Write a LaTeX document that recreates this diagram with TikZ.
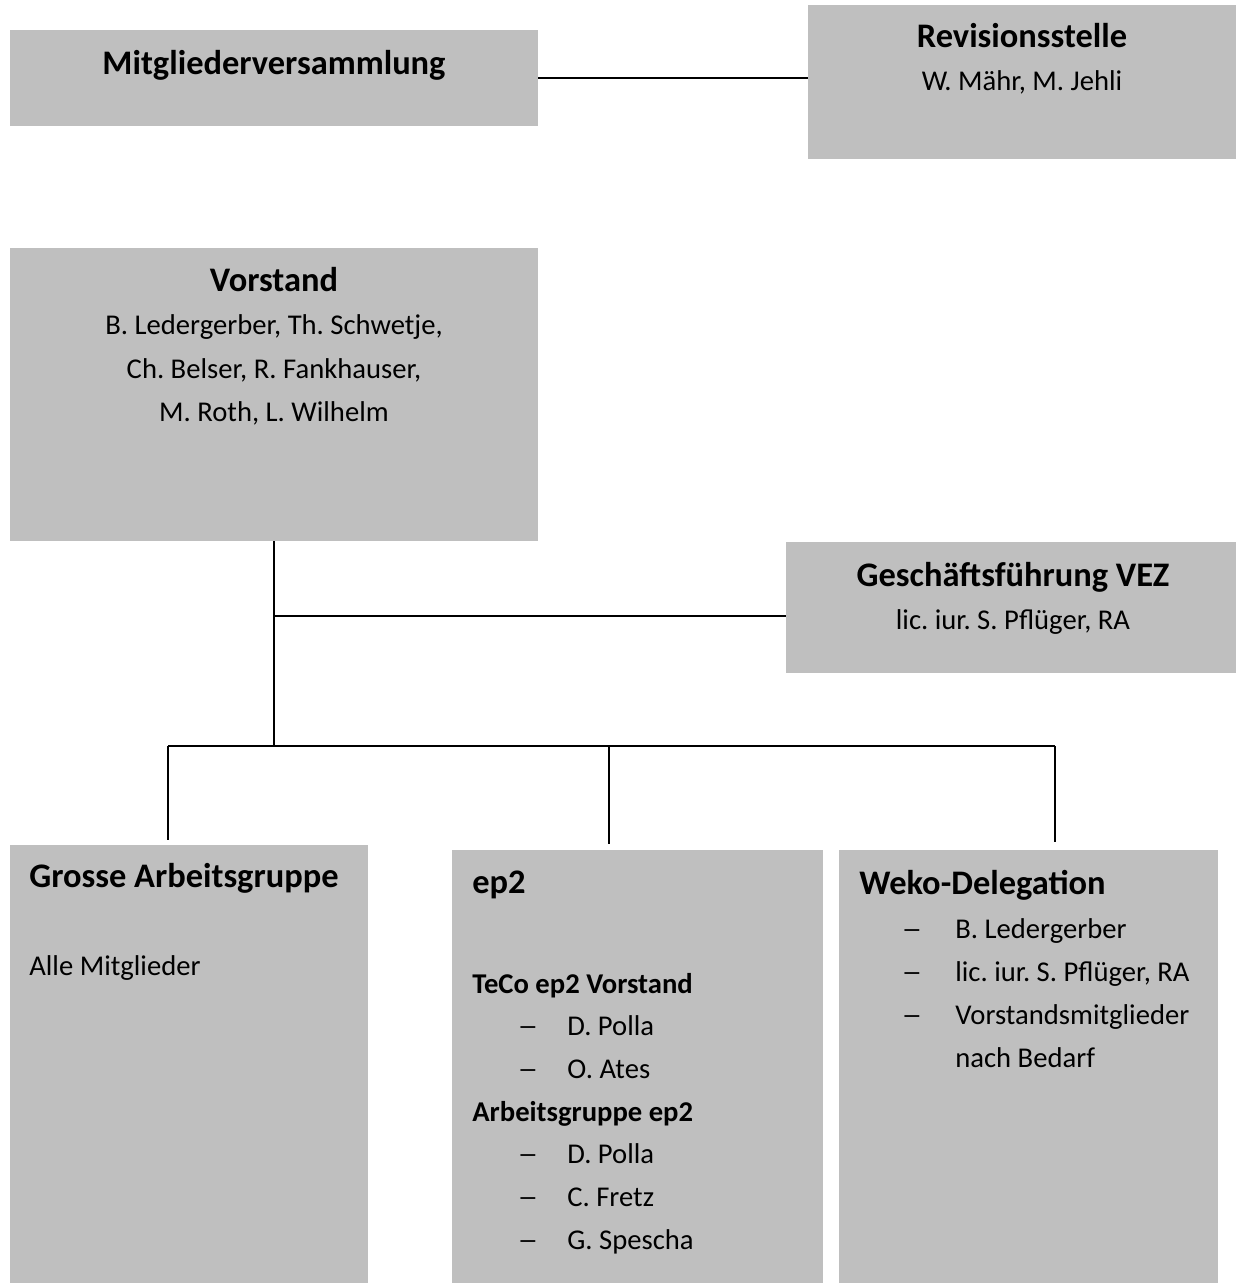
\documentclass[tikz,border=0pt]{standalone}
\usepackage{fontspec}
\setmainfont{Carlito}
\usetikzlibrary{positioning,fit}
\definecolor{boxgrey}{RGB}{191,191,191}
\frenchspacing
\tikzset{
  orgbox/.style={fill=boxgrey, draw=none, inner sep=0pt},
  head/.style={font=\bfseries\fontsize{19.6}{23}\selectfont, inner sep=0pt},
  subhead/.style={font=\bfseries\fontsize{16.3}{20}\selectfont, inner sep=0pt},
  txt/.style={font=\fontsize{16.3}{20}\selectfont, inner sep=0pt},
  conn/.style={line width=1.1pt},
}
\newcommand{\listdash}{\scalebox{1.45}[1]{–}}
\begin{document}
\begin{tikzpicture}[x=0.02cm,y=-0.02cm]
\useasboundingbox (0,0) rectangle (1236,1283);
% boxes
\node[orgbox, fit={(10,30) (538,126)}] (mv) {};
\node[orgbox, fit={(808,5) (1236,159)}] (rev) {};
\node[orgbox, fit={(10,248) (538,541)}] (vs) {};
\node[orgbox, fit={(786,542) (1236,673)}] (gf) {};
\node[orgbox, fit={(10,845) (368,1283)}] (ga) {};
\node[orgbox, fit={(452,850) (823,1283)}] (ep) {};
\node[orgbox, fit={(839,850) (1218,1283)}] (wk) {};
% texts
\node[head, anchor=base] (mvT) at (274,75) {Mitgliederversammlung};
\node[head, anchor=base] (revT) at (1022,48) {Revisionsstelle};
\node[txt, anchor=base] (revN) at (1022,91) {W. Mähr, M. Jehli};
\node[head, anchor=base] (vsT) at (274,292) {Vorstand};
\node[txt, anchor=base] (vs1) at (274,335) {B. Ledergerber, Th. Schwetje,};
\node[txt, anchor=base] (vs2) at (274,378) {Ch. Belser, R. Fankhauser,};
\node[txt, anchor=base] (vs3) at (274,421) {M. Roth, L. Wilhelm};
\node[head, anchor=base] (gfT) at (1013,586) {Geschäftsführung VEZ};
\node[txt, anchor=base] (gfN) at (1013,629) {lic. iur. S. Pflüger, RA};
\node[head, anchor=base west] (gaT) at (29,887) {Grosse Arbeitsgruppe};
\node[txt, anchor=base west] (gaN) at (29,975) {Alle Mitglieder};
\node[head, anchor=base west] (epT) at (472,893) {ep2};
\node[subhead, anchor=base west] (tecoT) at (472,993) {TeCo ep2 Vorstand};
\node[subhead, anchor=base west] (agT) at (472,1121) {Arbeitsgruppe ep2};
\foreach \name/\y in {D. Polla/1035, O. Ates/1078, D. Polla/1163, C. Fretz/1206, G. Spescha/1249} {
  \node[txt, anchor=base] at (528,\y) {\listdash};
  \node[txt, anchor=base west] at (567,\y) {\name};
}
\node[head, anchor=base west] (wkT) at (859,894) {Weko-Delegation};
\foreach \name/\y in {B. Ledergerber/938, {lic. iur. S. Pflüger, RA}/981, Vorstandsmitglieder/1024} {
  \node[txt, anchor=base] at (912,\y) {\listdash};
  \node[txt, anchor=base west] at (955,\y) {\name};
}
\node[txt, anchor=base west] (wkN) at (955,1067) {nach Bedarf};
% connectors
\coordinate (bus) at (274,746);
\coordinate (gfj) at (274,616);
\coordinate (busL) at (168,746);
\coordinate (busM) at (609,746);
\coordinate (busR) at (1055,746);
\coordinate (dropL) at (168,840);
\coordinate (dropM) at (609,844);
\coordinate (dropR) at (1055,842);
\draw[conn] (mv.east) -- (mv.east -| rev.west);
\draw[conn] (vs.south) -- (bus);
\draw[conn] (gfj) -- (gfj -| gf.west);
\draw[conn, line width=1.5pt] (busL) -- (busR);
\draw[conn] (busL) -- (dropL);
\draw[conn] (busM) -- (dropM);
\draw[conn] (busR) -- (dropR);
\end{tikzpicture}
\end{document}
